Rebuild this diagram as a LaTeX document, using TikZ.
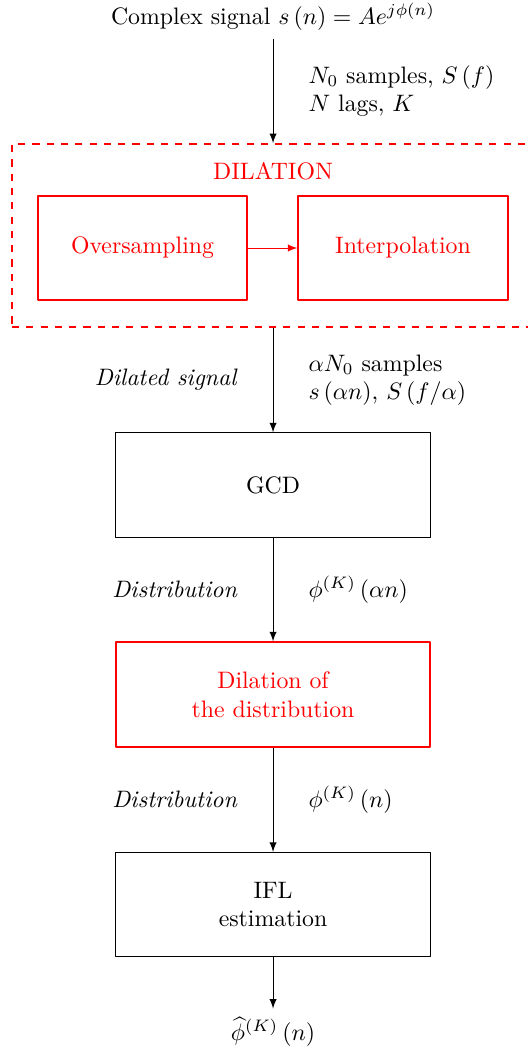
\documentclass[tikz,border=0pt]{standalone}
\usepackage{amsmath}
\usepackage{amsfonts}
\usepackage{amssymb}
\usetikzlibrary{arrows}
\usetikzlibrary{positioning}
\tikzset{blkbox/.style={draw=black,line width=0.4pt,minimum width=4.64cm,minimum height=1.54cm,align=center},
  redbox/.style={draw=red,text=red,line width=0.8pt,minimum height=1.54cm,align=center},
  lbl/.style={align=left}}

\begin{document}
\begin{tikzpicture}[line join=round,>=latex,x=1cm,y=1cm]
\useasboundingbox (-4.033,0) rectangle (3.752,-15.583);
%\clip(-4.033,0) rectangle (3.752,-15.583);
\node (sig) at (0,-0.25) {Complex signal $s\left(n\right)=Ae^{j\phi\left(n\right)}$};
\node (dil) [draw=red,dashed,line width=0.8pt,minimum width=7.71cm,minimum height=2.70cm] at (0,-3.479) {};
\node (diltxt) [text=red] at (0,-2.526) {DILATION};
\node (over) [redbox,minimum width=3.09cm] at (-1.928,-3.663) {Oversampling};
\node (interp) [redbox,minimum width=3.09cm] at (1.920,-3.663) {Interpolation};
\node (gcd) [blkbox] at (0,-7.164) {GCD};
\node (dild) [redbox,minimum width=4.64cm] at (0,-10.258) {Dilation of\\the distribution};
\node (ifl) [blkbox] at (0,-13.361) {IFL\\estimation};
\node (est) at (0,-15.24) {$\widehat{\phi}^{\left(K\right)}\left(n\right)$};
% connections
\draw [->,line width=0.4pt] (sig)-- (dil.north)
  node (lab1) [midway,right=0.4cm,lbl] {$N_0$ samples, $S\left(f\right)$\\$N$ lags, $K$};
\draw [->,color=red,line width=0.4pt] (over)-- (interp);
\draw [->,line width=0.4pt] (dil.south)-- (gcd)
  node (lab2) [midway,right=0.4cm,lbl] {$\alpha N_0$ samples\\$s\left(\alpha n\right)$, $S\left(f/\alpha\right)$}
  node (lab3) [midway,left=0.4cm] {\textit{Dilated signal}};
\draw [->,line width=0.4pt] (gcd)-- (dild)
  node (lab4) [midway,right=0.4cm] {$\phi^{\left(K\right)}\left(\alpha n\right)$}
  node (lab5) [midway,left=0.4cm] {\textit{Distribution}};
\draw [->,line width=0.4pt] (dild)-- (ifl)
  node (lab6) [midway,right=0.4cm] {$\phi^{\left(K\right)}\left(n\right)$}
  node (lab7) [midway,left=0.4cm] {\textit{Distribution}};
\draw [->,line width=0.4pt] (ifl)-- (est);
\end{tikzpicture}
\end{document}
